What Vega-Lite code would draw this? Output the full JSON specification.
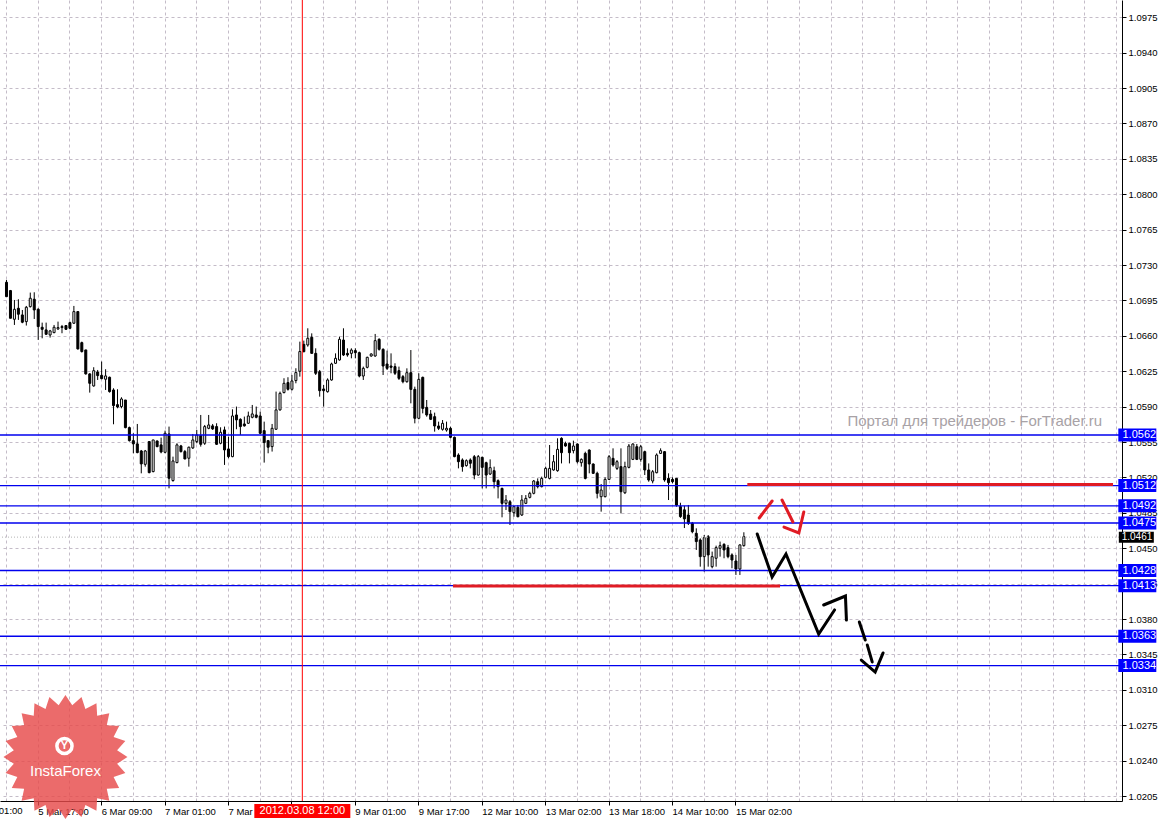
{
  "$schema": "https://vega.github.io/schema/vega-lite/v6.json",
  "width": 1122,
  "height": 801,
  "autosize": {"type": "none"},
  "padding": {"left": 0, "top": 0, "right": 44, "bottom": 19},
  "background": "#ffffff",
  "config": {"view": {"stroke": null}, "font": "Liberation Sans"},
  "datasets": {
    "candles": [
      {"i":-8,"o":1.0713,"h":1.07153,"l":1.06988,"c":1.06988},
      {"i":-7,"o":1.07048,"h":1.07054,"l":1.06774,"c":1.06774},
      {"i":-6,"o":1.06764,"h":1.06955,"l":1.06708,"c":1.06863},
      {"i":-5,"o":1.06873,"h":1.06962,"l":1.06758,"c":1.06814},
      {"i":-4,"o":1.06807,"h":1.06856,"l":1.06725,"c":1.06735},
      {"i":-3,"o":1.06741,"h":1.06896,"l":1.06702,"c":1.06883},
      {"i":-2,"o":1.06889,"h":1.07028,"l":1.0688,"c":1.06972},
      {"i":-1,"o":1.06962,"h":1.07031,"l":1.06767,"c":1.06856},
      {"i":0,"o":1.06863,"h":1.06873,"l":1.0656,"c":1.06692},
      {"i":1,"o":1.06685,"h":1.06731,"l":1.06576,"c":1.06665},
      {"i":2,"o":1.06659,"h":1.06731,"l":1.06609,"c":1.06616},
      {"i":3,"o":1.06609,"h":1.06659,"l":1.06583,"c":1.06649},
      {"i":4,"o":1.06632,"h":1.06708,"l":1.06626,"c":1.06685},
      {"i":5,"o":1.06669,"h":1.06741,"l":1.06659,"c":1.06682},
      {"i":6,"o":1.06682,"h":1.06708,"l":1.06626,"c":1.06692},
      {"i":7,"o":1.06702,"h":1.06702,"l":1.06659,"c":1.06665},
      {"i":8,"o":1.06731,"h":1.06741,"l":1.06665,"c":1.06675},
      {"i":9,"o":1.06725,"h":1.06896,"l":1.06718,"c":1.0684},
      {"i":10,"o":1.0684,"h":1.06845,"l":1.06465,"c":1.06471},
      {"i":11,"o":1.06533,"h":1.06543,"l":1.06435,"c":1.06445},
      {"i":12,"o":1.06461,"h":1.06461,"l":1.06217,"c":1.06224},
      {"i":13,"o":1.06224,"h":1.0623,"l":1.06039,"c":1.06131},
      {"i":14,"o":1.06105,"h":1.0629,"l":1.06098,"c":1.06256},
      {"i":15,"o":1.06243,"h":1.06263,"l":1.06164,"c":1.06207},
      {"i":16,"o":1.0621,"h":1.06346,"l":1.06171,"c":1.06177},
      {"i":17,"o":1.06171,"h":1.0627,"l":1.06065,"c":1.06204},
      {"i":18,"o":1.06191,"h":1.06197,"l":1.06039,"c":1.06049},
      {"i":19,"o":1.06065,"h":1.06082,"l":1.05726,"c":1.05911},
      {"i":20,"o":1.0592,"h":1.06072,"l":1.05884,"c":1.05897},
      {"i":21,"o":1.05901,"h":1.05993,"l":1.05884,"c":1.05976},
      {"i":22,"o":1.05966,"h":1.05966,"l":1.05686,"c":1.05693},
      {"i":23,"o":1.05693,"h":1.05703,"l":1.05555,"c":1.05564},
      {"i":24,"o":1.05564,"h":1.05637,"l":1.05439,"c":1.05532},
      {"i":25,"o":1.05532,"h":1.05729,"l":1.05439,"c":1.05446},
      {"i":26,"o":1.05462,"h":1.05472,"l":1.05241,"c":1.05334},
      {"i":27,"o":1.0533,"h":1.05472,"l":1.05307,"c":1.05462},
      {"i":28,"o":1.05555,"h":1.05555,"l":1.05241,"c":1.05248},
      {"i":29,"o":1.05258,"h":1.05571,"l":1.05251,"c":1.05571},
      {"i":30,"o":1.05561,"h":1.05564,"l":1.05499,"c":1.05505},
      {"i":31,"o":1.05522,"h":1.05594,"l":1.05439,"c":1.05452},
      {"i":32,"o":1.05449,"h":1.05663,"l":1.05439,"c":1.05637},
      {"i":33,"o":1.0563,"h":1.05703,"l":1.05093,"c":1.05192},
      {"i":34,"o":1.05169,"h":1.05406,"l":1.05159,"c":1.05363},
      {"i":35,"o":1.05347,"h":1.05538,"l":1.0534,"c":1.05522},
      {"i":36,"o":1.05512,"h":1.05522,"l":1.05446,"c":1.05456},
      {"i":37,"o":1.05456,"h":1.05472,"l":1.0538,"c":1.05383},
      {"i":38,"o":1.0539,"h":1.05505,"l":1.05307,"c":1.05499},
      {"i":39,"o":1.05492,"h":1.0563,"l":1.05482,"c":1.05571},
      {"i":40,"o":1.05555,"h":1.0567,"l":1.05538,"c":1.0562},
      {"i":41,"o":1.05614,"h":1.05818,"l":1.05505,"c":1.05528},
      {"i":42,"o":1.05538,"h":1.05719,"l":1.05522,"c":1.05703},
      {"i":43,"o":1.05686,"h":1.05818,"l":1.05677,"c":1.05719},
      {"i":44,"o":1.0571,"h":1.05729,"l":1.0567,"c":1.0568},
      {"i":45,"o":1.05703,"h":1.05736,"l":1.05522,"c":1.05528},
      {"i":46,"o":1.05538,"h":1.05696,"l":1.05528,"c":1.05647},
      {"i":47,"o":1.0567,"h":1.05703,"l":1.05324,"c":1.05472},
      {"i":48,"o":1.05482,"h":1.05604,"l":1.0539,"c":1.05406},
      {"i":49,"o":1.05406,"h":1.05874,"l":1.054,"c":1.05808},
      {"i":50,"o":1.05818,"h":1.05901,"l":1.05677,"c":1.05769},
      {"i":51,"o":1.05775,"h":1.05785,"l":1.0562,"c":1.05703},
      {"i":52,"o":1.05729,"h":1.05802,"l":1.05703,"c":1.0571},
      {"i":53,"o":1.05736,"h":1.05851,"l":1.05729,"c":1.05808},
      {"i":54,"o":1.05795,"h":1.05917,"l":1.05785,"c":1.05828},
      {"i":55,"o":1.05818,"h":1.05901,"l":1.05785,"c":1.05795},
      {"i":56,"o":1.05808,"h":1.05851,"l":1.0563,"c":1.05637},
      {"i":57,"o":1.05663,"h":1.05752,"l":1.05347,"c":1.05545},
      {"i":58,"o":1.05564,"h":1.05571,"l":1.05439,"c":1.05499},
      {"i":59,"o":1.05505,"h":1.05729,"l":1.05456,"c":1.05686},
      {"i":60,"o":1.05677,"h":1.06049,"l":1.0567,"c":1.05868},
      {"i":61,"o":1.05868,"h":1.06049,"l":1.05861,"c":1.06032},
      {"i":62,"o":1.06039,"h":1.06181,"l":1.06032,"c":1.06131},
      {"i":63,"o":1.06138,"h":1.06191,"l":1.06059,"c":1.06072},
      {"i":64,"o":1.06072,"h":1.06214,"l":1.06059,"c":1.06154},
      {"i":65,"o":1.06158,"h":1.0628,"l":1.06131,"c":1.06237},
      {"i":66,"o":1.0625,"h":1.06543,"l":1.06197,"c":1.06445},
      {"i":67,"o":1.06516,"h":1.06553,"l":1.06437,"c":1.06444},
      {"i":68,"o":1.0651,"h":1.06675,"l":1.06493,"c":1.06576},
      {"i":69,"o":1.06586,"h":1.06625,"l":1.06427,"c":1.06427},
      {"i":70,"o":1.06427,"h":1.06477,"l":1.06213,"c":1.0623},
      {"i":71,"o":1.06246,"h":1.06263,"l":1.05999,"c":1.06058},
      {"i":72,"o":1.06075,"h":1.06114,"l":1.059,"c":1.06058},
      {"i":73,"o":1.06048,"h":1.0618,"l":1.06039,"c":1.06164},
      {"i":74,"o":1.06164,"h":1.06335,"l":1.06157,"c":1.06322},
      {"i":75,"o":1.06329,"h":1.06427,"l":1.06322,"c":1.06378},
      {"i":76,"o":1.06362,"h":1.06592,"l":1.06355,"c":1.06566},
      {"i":77,"o":1.06559,"h":1.06675,"l":1.06401,"c":1.06411},
      {"i":78,"o":1.06427,"h":1.06477,"l":1.06394,"c":1.06411},
      {"i":79,"o":1.06427,"h":1.06477,"l":1.06378,"c":1.0646},
      {"i":80,"o":1.06454,"h":1.06477,"l":1.06378,"c":1.06434},
      {"i":81,"o":1.06434,"h":1.06444,"l":1.0619,"c":1.06203},
      {"i":82,"o":1.06203,"h":1.06296,"l":1.06164,"c":1.06279},
      {"i":83,"o":1.06289,"h":1.06394,"l":1.06279,"c":1.06388},
      {"i":84,"o":1.06401,"h":1.06427,"l":1.06394,"c":1.06421},
      {"i":85,"o":1.06401,"h":1.06619,"l":1.06394,"c":1.06553},
      {"i":86,"o":1.06566,"h":1.06576,"l":1.06454,"c":1.06467},
      {"i":87,"o":1.06467,"h":1.06477,"l":1.06213,"c":1.06302},
      {"i":88,"o":1.06322,"h":1.06454,"l":1.06263,"c":1.06279},
      {"i":89,"o":1.06302,"h":1.06427,"l":1.0623,"c":1.06289},
      {"i":90,"o":1.06296,"h":1.06329,"l":1.06213,"c":1.0623},
      {"i":91,"o":1.06256,"h":1.06296,"l":1.06164,"c":1.0618},
      {"i":92,"o":1.06197,"h":1.06213,"l":1.06131,"c":1.06147},
      {"i":93,"o":1.06147,"h":1.06279,"l":1.06137,"c":1.06236},
      {"i":94,"o":1.06236,"h":1.0646,"l":1.05933,"c":1.06071},
      {"i":95,"o":1.06071,"h":1.06098,"l":1.05735,"c":1.05785},
      {"i":96,"o":1.05785,"h":1.0623,"l":1.05775,"c":1.0617},
      {"i":97,"o":1.0619,"h":1.06197,"l":1.05834,"c":1.05883},
      {"i":98,"o":1.05893,"h":1.05966,"l":1.05801,"c":1.05818},
      {"i":99,"o":1.05827,"h":1.05867,"l":1.05768,"c":1.05775},
      {"i":100,"o":1.05801,"h":1.05841,"l":1.05653,"c":1.05709},
      {"i":101,"o":1.05709,"h":1.05752,"l":1.05669,"c":1.05686},
      {"i":102,"o":1.05676,"h":1.05768,"l":1.05663,"c":1.05735},
      {"i":103,"o":1.05669,"h":1.05752,"l":1.05653,"c":1.05686},
      {"i":104,"o":1.05686,"h":1.05702,"l":1.05587,"c":1.05597},
      {"i":105,"o":1.05597,"h":1.05604,"l":1.054,"c":1.05406},
      {"i":106,"o":1.05422,"h":1.05439,"l":1.0529,"c":1.05356},
      {"i":107,"o":1.05373,"h":1.05389,"l":1.05257,"c":1.05307},
      {"i":108,"o":1.05317,"h":1.05379,"l":1.05307,"c":1.05366},
      {"i":109,"o":1.05373,"h":1.05389,"l":1.0529,"c":1.0534},
      {"i":110,"o":1.05405,"h":1.05422,"l":1.05182,"c":1.05224},
      {"i":111,"o":1.05224,"h":1.05422,"l":1.05218,"c":1.05406},
      {"i":112,"o":1.05399,"h":1.05405,"l":1.05092,"c":1.053},
      {"i":113,"o":1.05346,"h":1.05356,"l":1.05092,"c":1.05224},
      {"i":114,"o":1.05234,"h":1.05379,"l":1.05224,"c":1.05297},
      {"i":115,"o":1.05267,"h":1.05307,"l":1.05092,"c":1.05158},
      {"i":116,"o":1.05168,"h":1.05181,"l":1.04993,"c":1.05109},
      {"i":117,"o":1.05092,"h":1.05099,"l":1.04806,"c":1.04944},
      {"i":118,"o":1.04944,"h":1.05026,"l":1.04878,"c":1.04977},
      {"i":119,"o":1.0496,"h":1.04977,"l":1.0473,"c":1.04862},
      {"i":120,"o":1.04852,"h":1.04918,"l":1.04812,"c":1.04911},
      {"i":121,"o":1.04904,"h":1.04927,"l":1.04806,"c":1.04812},
      {"i":122,"o":1.04829,"h":1.05026,"l":1.04819,"c":1.04977},
      {"i":123,"o":1.04944,"h":1.05026,"l":1.04937,"c":1.04993},
      {"i":124,"o":1.05003,"h":1.05059,"l":1.04993,"c":1.05043},
      {"i":125,"o":1.05043,"h":1.05175,"l":1.05033,"c":1.05165},
      {"i":126,"o":1.05158,"h":1.05191,"l":1.05092,"c":1.05109},
      {"i":127,"o":1.05109,"h":1.05208,"l":1.05102,"c":1.05191},
      {"i":128,"o":1.05201,"h":1.05307,"l":1.05191,"c":1.0529},
      {"i":129,"o":1.05191,"h":1.05521,"l":1.05181,"c":1.0529},
      {"i":130,"o":1.05274,"h":1.05422,"l":1.05267,"c":1.05356},
      {"i":131,"o":1.05267,"h":1.05587,"l":1.05257,"c":1.05478},
      {"i":132,"o":1.05587,"h":1.05597,"l":1.05339,"c":1.05445},
      {"i":133,"o":1.05537,"h":1.05554,"l":1.05504,"c":1.05511},
      {"i":134,"o":1.05537,"h":1.05544,"l":1.05339,"c":1.05445},
      {"i":135,"o":1.05465,"h":1.05564,"l":1.05438,"c":1.05511},
      {"i":136,"o":1.05531,"h":1.05537,"l":1.05339,"c":1.05356},
      {"i":137,"o":1.05346,"h":1.05389,"l":1.05307,"c":1.05379},
      {"i":138,"o":1.05438,"h":1.05455,"l":1.05181,"c":1.05191},
      {"i":139,"o":1.05471,"h":1.05478,"l":1.05241,"c":1.05333},
      {"i":140,"o":1.05333,"h":1.05339,"l":1.05234,"c":1.05241},
      {"i":141,"o":1.05241,"h":1.05257,"l":1.04993,"c":1.05043},
      {"i":142,"o":1.0501,"h":1.05135,"l":1.04862,"c":1.05076},
      {"i":143,"o":1.0501,"h":1.05201,"l":1.05003,"c":1.05181},
      {"i":144,"o":1.05181,"h":1.05422,"l":1.05175,"c":1.05405},
      {"i":145,"o":1.05389,"h":1.05488,"l":1.05307,"c":1.05323},
      {"i":146,"o":1.0529,"h":1.05372,"l":1.05274,"c":1.05356},
      {"i":147,"o":1.05307,"h":1.05488,"l":1.04845,"c":1.05059},
      {"i":148,"o":1.05049,"h":1.05356,"l":1.05036,"c":1.05307},
      {"i":149,"o":1.053,"h":1.05531,"l":1.0529,"c":1.05511},
      {"i":150,"o":1.05379,"h":1.05537,"l":1.05372,"c":1.05531},
      {"i":151,"o":1.05504,"h":1.05531,"l":1.05372,"c":1.05379},
      {"i":152,"o":1.05379,"h":1.05521,"l":1.05356,"c":1.05504},
      {"i":153,"o":1.05455,"h":1.05465,"l":1.05224,"c":1.05274},
      {"i":154,"o":1.05274,"h":1.05339,"l":1.05158,"c":1.05175},
      {"i":155,"o":1.05165,"h":1.05274,"l":1.05142,"c":1.05257},
      {"i":156,"o":1.05247,"h":1.05438,"l":1.05241,"c":1.05422},
      {"i":157,"o":1.05438,"h":1.05488,"l":1.05432,"c":1.05465},
      {"i":158,"o":1.05455,"h":1.05461,"l":1.05158,"c":1.05175},
      {"i":159,"o":1.05191,"h":1.05241,"l":1.04977,"c":1.05148},
      {"i":160,"o":1.05181,"h":1.05201,"l":1.05142,"c":1.05158},
      {"i":161,"o":1.05191,"h":1.05191,"l":1.04911,"c":1.04927},
      {"i":162,"o":1.04912,"h":1.0495,"l":1.048,"c":1.04813},
      {"i":163,"o":1.0488,"h":1.0492,"l":1.047,"c":1.0479},
      {"i":164,"o":1.04829,"h":1.04928,"l":1.0473,"c":1.04747},
      {"i":165,"o":1.04747,"h":1.0476,"l":1.04648,"c":1.04664},
      {"i":166,"o":1.04648,"h":1.04697,"l":1.04483,"c":1.04566},
      {"i":167,"o":1.04582,"h":1.04598,"l":1.04318,"c":1.04417},
      {"i":168,"o":1.04417,"h":1.04631,"l":1.04269,"c":1.04605},
      {"i":169,"o":1.04615,"h":1.04631,"l":1.04318,"c":1.04434},
      {"i":170,"o":1.04318,"h":1.04467,"l":1.04302,"c":1.04417},
      {"i":171,"o":1.04401,"h":1.04526,"l":1.04318,"c":1.04506},
      {"i":172,"o":1.045,"h":1.04566,"l":1.04417,"c":1.04526},
      {"i":173,"o":1.04539,"h":1.04549,"l":1.04401,"c":1.04483},
      {"i":174,"o":1.04506,"h":1.04533,"l":1.04401,"c":1.04417},
      {"i":175,"o":1.04434,"h":1.0445,"l":1.04302,"c":1.04384},
      {"i":176,"o":1.04374,"h":1.04434,"l":1.04236,"c":1.04295},
      {"i":177,"o":1.04295,"h":1.04539,"l":1.04236,"c":1.04533},
      {"i":178,"o":1.04526,"h":1.04658,"l":1.04516,"c":1.04615}
    ],
    "levels": [
      {"level":1.0562},{"level":1.0512},{"level":1.0492},{"level":1.0475},
      {"level":1.0428},{"level":1.0413},{"level":1.0363},{"level":1.0334}
    ],
    "price": [{"level":1.0461}],
    "zones": [
      {"p":1.0513,"i1":179,"i2":271.25},
      {"p":1.04127,"i1":104.75,"i2":187.25}
    ],
    "paths": [
      {"seg":"m1","kind":"forecast","ord":0,"i":181.5,"p":1.04641},
      {"seg":"m1","kind":"forecast","ord":1,"i":185.25,"p":1.04216},
      {"seg":"m1","kind":"forecast","ord":2,"i":188.75,"p":1.04443},
      {"seg":"m1","kind":"forecast","ord":3,"i":197,"p":1.03652},
      {"seg":"m1","kind":"forecast","ord":4,"i":201,"p":1.0389},
      {"seg":"m2","kind":"forecast","ord":0,"i":198.25,"p":1.03939},
      {"seg":"m2","kind":"forecast","ord":1,"i":203.75,"p":1.04028},
      {"seg":"m2","kind":"forecast","ord":2,"i":204,"p":1.0379},
      {"seg":"d1","kind":"forecast","ord":0,"i":207.25,"p":1.03771},
      {"seg":"d1","kind":"forecast","ord":1,"i":208.75,"p":1.03593},
      {"seg":"d2","kind":"forecast","ord":0,"i":209.25,"p":1.03544},
      {"seg":"d2","kind":"forecast","ord":1,"i":210.5,"p":1.03376},
      {"seg":"d3","kind":"forecast","ord":0,"i":207.75,"p":1.03395},
      {"seg":"d3","kind":"forecast","ord":1,"i":211.25,"p":1.03276},
      {"seg":"d3","kind":"forecast","ord":2,"i":213.25,"p":1.03465},
      {"seg":"r1","kind":"alt","ord":0,"i":182,"p":1.04799},
      {"seg":"r1","kind":"alt","ord":1,"i":185.25,"p":1.04967},
      {"seg":"r2","kind":"alt","ord":0,"i":187.75,"p":1.04977},
      {"seg":"r2","kind":"alt","ord":1,"i":190.5,"p":1.0476},
      {"seg":"r3","kind":"alt","ord":0,"i":188.25,"p":1.0471},
      {"seg":"r3","kind":"alt","ord":1,"i":192,"p":1.04651},
      {"seg":"r3","kind":"alt","ord":2,"i":193.25,"p":1.04859}
    ]
  },
  "layer": [
    {
      "data": {"name": "candles"},
      "mark": {"type": "rule", "color": "#000000", "strokeWidth": 1, "xOffset": 0.5},
      "encoding": {
        "x": {
          "field": "i", "type": "quantitative", "title": null,
          "scale": {"domain": [-8.25, 272.25], "nice": false, "zero": false},
          "axis": {
            "values": [-8,0,8,16,24,32,40,48,56,64,72,80,88,96,104,112,120,128,136,144,152,160,168,176,184,192,200,208,216,224,232,240,248,256,264,272],
            "tickCount": 200,
            "labelExpr": "(datum.value % 16 == 0 && datum.value <= 176) ? ['5 Mar 01:00','5 Mar 17:00','6 Mar 09:00','7 Mar 01:00','7 Mar 17:00','8 Mar 09:00','9 Mar 01:00','9 Mar 17:00','12 Mar 10:00','13 Mar 02:00','13 Mar 18:00','14 Mar 10:00','15 Mar 02:00'][(datum.value + 16) / 16] : ''",
            "labelAlign": "left",
            "labelBaseline": "top",
            "labelFlush": false,
            "labelOverlap": false,
            "labelFontSize": 9.5,
            "labelColor": "#000000",
            "labelPadding": 1,
            "tickSize": 4,
            "tickColor": "#000000",
            "tickOpacity": {"condition": {"test": "datum.value % 16 == 0 && datum.value <= 176", "value": 1}, "value": 0},
            "grid": true,
            "gridDash": [3, 3],
            "gridColor": "#c4bcc8",
            "domainColor": "#000000",
            "title": null
          }
        },
        "y": {
          "field": "l", "type": "quantitative", "title": null,
          "scale": {"domain": [1.02001, 1.09921], "nice": false, "zero": false},
          "axis": {
            "orient": "right",
            "values": [1.0205,1.024,1.0275,1.031,1.0345,1.038,1.0415,1.045,1.0485,1.052,1.0555,1.059,1.0625,1.066,1.0695,1.073,1.0765,1.08,1.0835,1.087,1.0905,1.094,1.0975],
            "tickCount": 100,
            "format": ".4f",
            "labelFontSize": 9.5,
            "labelColor": "#000000",
            "labelPadding": 2,
            "labelOverlap": false,
            "tickSize": 4,
            "tickColor": "#000000",
            "grid": true,
            "gridDash": [3, 3],
            "gridColor": "#c4bcc8",
            "domainColor": "#000000",
            "title": null
          }
        },
        "y2": {"field": "h"}
      }
    },
    {
      "data": {"name": "candles"},
      "mark": {"type": "bar", "size": 2, "stroke": "#000000", "strokeWidth": 1, "xOffset": 0.5},
      "encoding": {
        "x": {"field": "i", "type": "quantitative", "title": null},
        "y": {"field": "o", "type": "quantitative", "title": null},
        "y2": {"field": "c"},
        "fill": {"condition": {"test": "datum.c >= datum.o", "value": "#ffffff"}, "value": "#000000"}
      }
    },
    {
      "data": {"name": "levels"},
      "mark": {"type": "rule", "color": "#0000ee", "strokeWidth": 1.3},
      "encoding": {"y": {"field": "level", "type": "quantitative", "title": null}}
    },
    {
      "data": {"name": "price"},
      "mark": {"type": "rule", "color": "#b4b4b4", "strokeWidth": 1, "strokeDash": [1, 2]},
      "encoding": {"y": {"field": "level", "type": "quantitative", "title": null}}
    },
    {
      "data": {"values": [{"t": "2012.03.08 12:00"}]},
      "mark": {"type": "rule", "color": "#ff0000", "strokeWidth": 1},
      "encoding": {"x": {"datum": 66.75, "type": "quantitative"}}
    },
    {
      "data": {"name": "zones"},
      "mark": {"type": "rule", "color": "#e01b24", "strokeWidth": 3},
      "encoding": {
        "x": {"field": "i1", "type": "quantitative", "title": null},
        "x2": {"field": "i2"},
        "y": {"field": "p", "type": "quantitative", "title": null}
      }
    },
    {
      "data": {"name": "paths"},
      "mark": {"type": "line", "strokeWidth": 3, "strokeCap": "round", "strokeJoin": "miter"},
      "encoding": {
        "x": {"field": "i", "type": "quantitative", "title": null},
        "y": {"field": "p", "type": "quantitative", "title": null},
        "detail": {"field": "seg"},
        "order": {"field": "ord"},
        "color": {"field": "kind", "type": "nominal", "legend": null, "scale": {"domain": ["forecast", "alt"], "range": ["#000000", "#e01b24"]}}
      }
    },
    {
      "data": {"values": [{"t": "Портал для трейдеров - ForTrader.ru"}]},
      "mark": {"type": "text", "align": "right", "baseline": "alphabetic", "fontSize": 15, "color": "#a8a2a6"},
      "encoding": {
        "x": {"datum": 268.5, "type": "quantitative"},
        "y": {"datum": 1.05712, "type": "quantitative"},
        "text": {"field": "t"}
      }
    },
    {
      "data": {"values": [{"t": "5 Mar 01:00"}]},
      "mark": {"type": "text", "align": "left", "baseline": "top", "fontSize": 9.5, "color": "#000000"},
      "encoding": {
        "x": {"datum": -16.6, "type": "quantitative"},
        "y": {"datum": 1.01952, "type": "quantitative"},
        "text": {"field": "t"}
      }
    },
    {
      "data": {"name": "levels"},
      "mark": {"type": "point", "shape": "M-1,-0.342L1,-0.342L1,0.342L-1,0.342Z", "filled": true, "fill": "#0000ff", "size": 1444, "opacity": 1, "strokeWidth": 0},
      "encoding": {
        "x": {"datum": 277.375, "type": "quantitative"},
        "y": {"field": "level", "type": "quantitative", "title": null}
      }
    },
    {
      "data": {"name": "levels"},
      "mark": {"type": "text", "align": "center", "baseline": "middle", "fontSize": 11, "color": "#ffffff"},
      "encoding": {
        "x": {"datum": 277.875, "type": "quantitative"},
        "y": {"field": "level", "type": "quantitative", "title": null},
        "text": {"field": "level", "type": "quantitative", "format": ".4f"}
      }
    },
    {
      "data": {"name": "price"},
      "mark": {"type": "point", "shape": "M-1,-0.314L1,-0.314L1,0.314L-1,0.314Z", "filled": true, "fill": "#000000", "size": 1225, "opacity": 1, "strokeWidth": 0},
      "encoding": {
        "x": {"datum": 277.125, "type": "quantitative"},
        "y": {"field": "level", "type": "quantitative", "title": null}
      }
    },
    {
      "data": {"name": "price"},
      "mark": {"type": "text", "align": "center", "baseline": "middle", "fontSize": 10, "color": "#ffffff"},
      "encoding": {
        "x": {"datum": 277.3, "type": "quantitative"},
        "y": {"field": "level", "type": "quantitative", "title": null},
        "text": {"field": "level", "type": "quantitative", "format": ".4f"}
      }
    },
    {
      "data": {"values": [{"t": "2012.03.08 12:00"}]},
      "mark": {"type": "point", "shape": "M-1,-0.146L1,-0.146L1,0.146L-1,0.146Z", "filled": true, "fill": "#ff0000", "size": 9216, "opacity": 1, "strokeWidth": 0},
      "encoding": {
        "x": {"datum": 66.75, "type": "quantitative"},
        "y": {"datum": 1.01903, "type": "quantitative"}
      }
    },
    {
      "data": {"values": [{"t": "2012.03.08 12:00"}]},
      "mark": {"type": "text", "align": "center", "baseline": "middle", "fontSize": 11, "color": "#ffffff"},
      "encoding": {
        "x": {"datum": 66.75, "type": "quantitative"},
        "y": {"datum": 1.01903, "type": "quantitative"},
        "text": {"field": "t"}
      }
    },
    {
      "data": {"values": [{"t": "InstaForex"}]},
      "mark": {"type": "point", "shape": "M1,0L0.8328,0.1096L0.9659,0.2588L0.7761,0.3215L0.866,0.5L0.6664,0.5114L0.7071,0.7071L0.5114,0.6664L0.5,0.866L0.3215,0.7761L0.2588,0.9659L0.1096,0.8328L0,1L-0.1096,0.8328L-0.2588,0.9659L-0.3215,0.7761L-0.5,0.866L-0.5114,0.6664L-0.7071,0.7071L-0.6664,0.5114L-0.866,0.5L-0.7761,0.3215L-0.9659,0.2588L-0.8328,0.1096L-1,0L-0.8328,-0.1096L-0.9659,-0.2588L-0.7761,-0.3215L-0.866,-0.5L-0.6664,-0.5114L-0.7071,-0.7071L-0.5114,-0.6664L-0.5,-0.866L-0.3215,-0.7761L-0.2588,-0.9659L-0.1096,-0.8328L0,-1L0.1096,-0.8328L0.2588,-0.9659L0.3215,-0.7761L0.5,-0.866L0.5114,-0.6664L0.7071,-0.7071L0.6664,-0.5114L0.866,-0.5L0.7761,-0.3215L0.9659,-0.2588L0.8328,-0.1096Z", "filled": true, "fill": "#e64a4a", "size": 15376, "opacity": 0.82, "strokeWidth": 0},
      "encoding": {
        "x": {"datum": 7, "type": "quantitative"},
        "y": {"datum": 1.02436, "type": "quantitative"}
      }
    },
    {
      "data": {"values": [{"t": "InstaForex"}]},
      "mark": {"type": "point", "shape": "circle", "filled": false, "stroke": "#ffffff", "strokeWidth": 3.5, "size": 230, "opacity": 1},
      "encoding": {
        "x": {"datum": 6.75, "type": "quantitative"},
        "y": {"datum": 1.02545, "type": "quantitative"}
      }
    },
    {
      "data": {"values": [{"t": "Y"}]},
      "mark": {"type": "text", "align": "center", "baseline": "middle", "fontSize": 11, "fontWeight": "bold", "color": "#ffffff"},
      "encoding": {
        "x": {"datum": 6.75, "type": "quantitative"},
        "y": {"datum": 1.02545, "type": "quantitative"},
        "text": {"field": "t"}
      }
    },
    {
      "data": {"values": [{"t": "InstaForex"}]},
      "mark": {"type": "text", "align": "center", "baseline": "middle", "fontSize": 15, "color": "#ffffff"},
      "encoding": {
        "x": {"datum": 7, "type": "quantitative"},
        "y": {"datum": 1.02298, "type": "quantitative"},
        "text": {"field": "t"}
      }
    }
  ]
}
